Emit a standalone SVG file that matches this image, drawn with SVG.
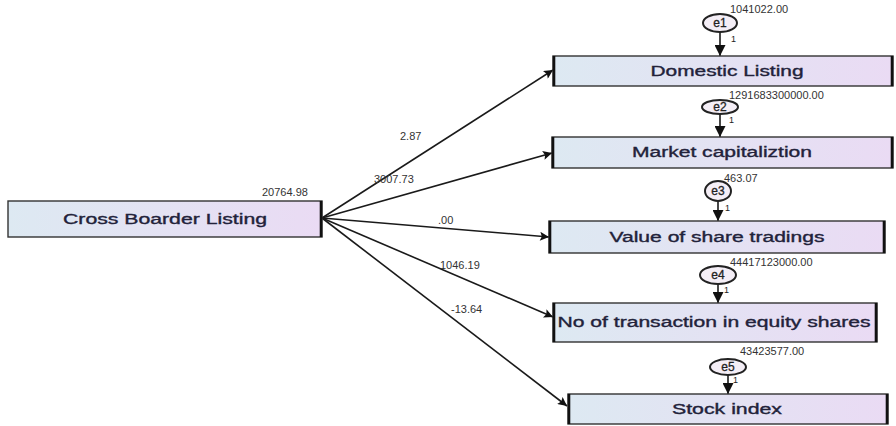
<svg xmlns="http://www.w3.org/2000/svg" width="896" height="426" viewBox="0 0 896 426">
<defs>
<linearGradient id="g" x1="0" y1="0" x2="1" y2="0">
<stop offset="0" stop-color="#dde9f2"/>
<stop offset="1" stop-color="#eadbf4"/>
</linearGradient>
<marker id="ah" viewBox="0 0 10 10" refX="10" refY="5" markerWidth="11" markerHeight="9" markerUnits="userSpaceOnUse" orient="auto">
<path d="M0,0 L10,5 L0,10 L2,5 Z" fill="#111"/>
</marker>
<marker id="av" viewBox="0 0 10 10" refX="10" refY="5" markerWidth="14" markerHeight="11" markerUnits="userSpaceOnUse" orient="auto">
<path d="M0,0 L10,5 L0,10 Z" fill="#111"/>
</marker>
</defs>
<style>
.box{fill:url(#g);stroke:#333;stroke-width:1.4}
.side{stroke:#111;stroke-width:2.6}
.lbl{font-family:"Liberation Sans",Arial,sans-serif;font-size:14px;fill:#22223a;text-anchor:middle;stroke:#22223a;stroke-width:0.35}
.num{font-family:"Liberation Sans",Arial,sans-serif;font-size:11px;fill:#333}
.err{fill:#f4eef6;stroke:#222;stroke-width:2}
.etx{font-family:"Liberation Sans",Arial,sans-serif;font-size:12px;fill:#222;text-anchor:middle;stroke:#222;stroke-width:0.3}
.edge{stroke:#1a1a1a;stroke-width:1.6;fill:none}
.one{font-family:"Liberation Sans",Arial,sans-serif;font-size:9px;fill:#222}
</style>
<rect width="896" height="426" fill="#fff"/>

<g id="connectors">
<line class="edge" x1="322" y1="218" x2="553" y2="70" marker-end="url(#ah)"/>
<line class="edge" x1="322" y1="218" x2="552" y2="153" marker-end="url(#ah)"/>
<line class="edge" x1="322" y1="218" x2="549" y2="237" marker-end="url(#ah)"/>
<line class="edge" x1="322" y1="218" x2="553" y2="317" marker-end="url(#ah)"/>
<line class="edge" x1="322" y1="218" x2="567" y2="406" marker-end="url(#ah)"/>
<line class="edge" x1="720" y1="32" x2="720" y2="56" marker-end="url(#av)"/>
<line class="edge" x1="720" y1="114" x2="720" y2="137" marker-end="url(#av)"/>
<line class="edge" x1="718" y1="201" x2="718" y2="221" marker-end="url(#av)"/>
<line class="edge" x1="718" y1="284" x2="718" y2="303" marker-end="url(#av)"/>
<line class="edge" x1="728" y1="375" x2="728" y2="394" marker-end="url(#av)"/>
<text class="num" x="400" y="140">2.87</text>
<text class="num" x="374" y="183">3007.73</text>
<text class="num" x="438" y="224">.00</text>
<text class="num" x="440" y="269">1046.19</text>
<text class="num" x="451" y="313">-13.64</text>
<text class="one" x="731" y="42">1</text>
<text class="one" x="729" y="123">1</text>
<text class="one" x="725" y="211">1</text>
<text class="one" x="724" y="293">1</text>
<text class="one" x="733" y="383">1</text>
</g>

<g id="cross">
<rect class="box" x="8" y="201" width="314" height="36"/>
<line class="side" x1="321" y1="201" x2="321" y2="237"/>
<text class="lbl" x="165" y="224" textLength="204" lengthAdjust="spacingAndGlyphs">Cross Boarder Listing</text>
<text class="num" x="262" y="196">20764.98</text>
</g>

<g id="domestic">
<rect class="box" x="553" y="56" width="340" height="30"/>
<line class="side" x1="554" y1="56" x2="554" y2="86"/>
<line class="side" x1="892" y1="56" x2="892" y2="86"/>
<text class="lbl" x="727" y="76" textLength="153" lengthAdjust="spacingAndGlyphs">Domestic Listing</text>
</g>
<g id="e1">
<ellipse class="err" cx="720" cy="23" rx="17" ry="9"/>
<text class="etx" x="720" y="27">e1</text>
<text class="num" x="730" y="13">1041022.00</text>
</g>

<g id="market">
<rect class="box" x="552" y="137" width="341" height="31"/>
<line class="side" x1="553" y1="137" x2="553" y2="168"/>
<line class="side" x1="892" y1="137" x2="892" y2="168"/>
<text class="lbl" x="722" y="157" textLength="180" lengthAdjust="spacingAndGlyphs">Market capitaliztion</text>
</g>
<g id="e2">
<ellipse class="err" cx="720" cy="107" rx="18" ry="7"/>
<text class="etx" x="720" y="111">e2</text>
<text class="num" x="729" y="99">1291683300000.00</text>
</g>

<g id="value">
<rect class="box" x="549" y="221" width="336" height="32"/>
<line class="side" x1="550" y1="221" x2="550" y2="253"/>
<line class="side" x1="884" y1="221" x2="884" y2="253"/>
<text class="lbl" x="717" y="242" textLength="215" lengthAdjust="spacingAndGlyphs">Value of share tradings</text>
</g>
<g id="e3">
<ellipse class="err" cx="718" cy="191" rx="13" ry="10"/>
<text class="etx" x="718" y="195">e3</text>
<text class="num" x="724" y="182">463.07</text>
</g>

<g id="transactions">
<rect class="box" x="553" y="303" width="324" height="39"/>
<line class="side" x1="554" y1="303" x2="554" y2="342"/>
<line class="side" x1="876" y1="303" x2="876" y2="342"/>
<text class="lbl" x="714" y="327" textLength="313" lengthAdjust="spacingAndGlyphs">No of transaction in equity shares</text>
</g>
<g id="e4">
<ellipse class="err" cx="718" cy="275" rx="18" ry="9"/>
<text class="etx" x="718" y="279">e4</text>
<text class="num" x="730" y="266">44417123000.00</text>
</g>

<g id="stock">
<rect class="box" x="568" y="394" width="320" height="30"/>
<line class="side" x1="569" y1="394" x2="569" y2="424"/>
<line class="side" x1="887" y1="394" x2="887" y2="424"/>
<text class="lbl" x="727" y="414" textLength="110" lengthAdjust="spacingAndGlyphs">Stock index</text>
</g>
<g id="e5">
<ellipse class="err" cx="728" cy="367" rx="18" ry="8"/>
<text class="etx" x="728" y="371">e5</text>
<text class="num" x="740" y="355">43423577.00</text>
</g>
</svg>
